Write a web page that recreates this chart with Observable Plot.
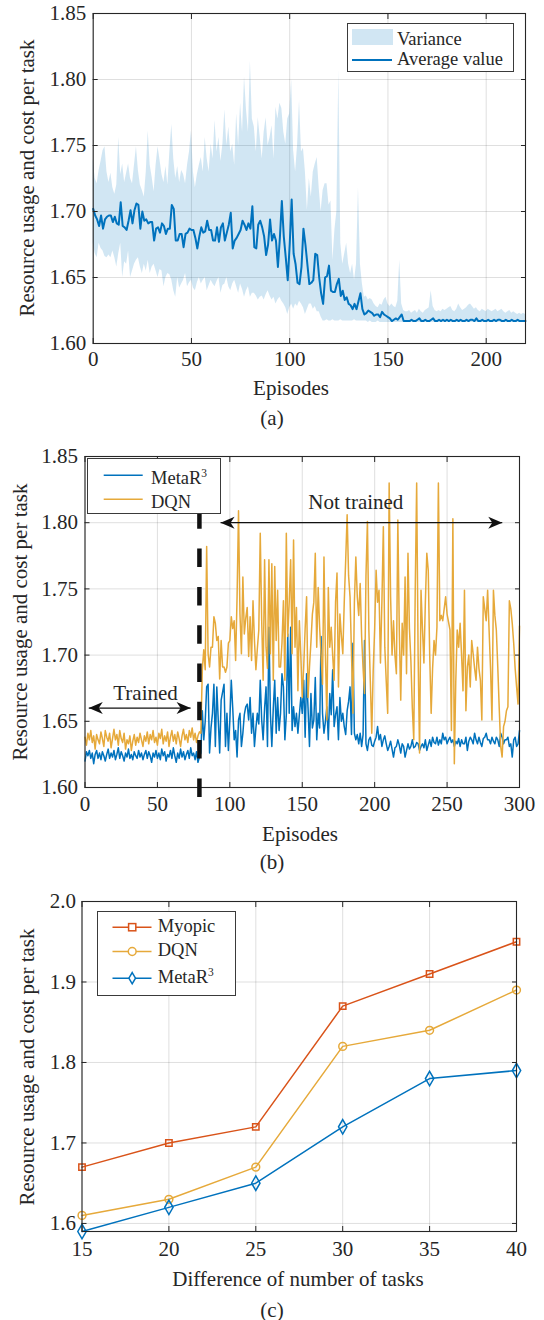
<!DOCTYPE html>
<html><head><meta charset="utf-8">
<script src="https://cdn.jsdelivr.net/npm/d3@7"></script>
<script src="https://cdn.jsdelivr.net/npm/@observablehq/plot@0.6"></script>
<style>
body{margin:0;background:#fff;}
#wrap{position:relative;width:544px;height:1320px;overflow:hidden;font-family:"Liberation Serif",Tinos,"Times New Roman",Times,"Nimbus Roman","DejaVu Serif","Noto Serif",serif;color:#262626;background:#fff;}
.t{position:absolute;white-space:nowrap;font-size:21px;line-height:1;transform:translate(-50%,-50%);}
.yl{transform:translate(-50%,-50%) rotate(-90deg);}
.legend{position:absolute;background:#fff;border:1px solid #3a3a3a;box-sizing:border-box;}
.legend span{position:absolute;white-space:nowrap;font-size:18.5px;line-height:1;}
.legend svg{position:absolute;left:0;top:0;overflow:visible;}
sup{font-size:0.62em;vertical-align:0.62em;line-height:0;}
</style></head>
<body><div id="wrap"></div>
<script>
// ---------------- Panel (a) data ----------------
const meanA = [
1.702,1.697,1.694,1.689,1.697,1.687,1.694,1.696,1.697,1.697,
1.692,1.696,1.691,1.690,1.707,1.689,1.688,1.686,1.693,1.701,
1.691,1.701,1.706,1.705,1.687,1.700,1.693,1.694,1.691,1.692,
1.692,1.678,1.687,1.688,1.684,1.691,1.689,1.683,1.687,1.687,
1.705,1.702,1.678,1.678,1.683,1.683,1.673,1.683,1.684,1.687,
1.686,1.686,1.680,1.672,1.681,1.688,1.684,1.685,1.693,1.686,
1.686,1.678,1.678,1.688,1.677,1.688,1.691,1.678,1.684,1.690,
1.699,1.672,1.678,1.680,1.683,1.686,1.693,1.690,1.686,1.691,
1.687,1.704,1.673,1.672,1.690,1.693,1.688,1.681,1.667,1.675,
1.694,1.678,1.683,1.678,1.658,1.680,1.708,1.681,1.665,1.648,
1.675,1.709,1.668,1.660,1.646,1.645,1.658,1.687,1.675,1.660,
1.645,1.646,1.648,1.668,1.667,1.650,1.638,1.630,1.650,1.651,
1.659,1.640,1.639,1.639,1.645,1.649,1.636,1.640,1.633,1.635,
1.630,1.629,1.626,1.630,1.626,1.632,1.638,1.626,1.622,1.623,
1.625,1.624,1.623,1.621,1.622,1.622,1.620,1.624,1.622,1.621,
1.620,1.619,1.617,1.618,1.619,1.618,1.620,1.622,1.617,1.617,
1.617,1.617,1.618,1.617,1.617,1.618,1.619,1.617,1.617,1.618,
1.617,1.617,1.618,1.619,1.617,1.617,1.618,1.617,1.618,1.617,
1.618,1.617,1.618,1.617,1.617,1.618,1.617,1.618,1.617,1.617,
1.618,1.617,1.618,1.618,1.617,1.619,1.617,1.617,1.618,1.617,
1.617,1.618,1.617,1.617,1.618,1.617,1.618,1.618,1.617,1.617,
1.618,1.617,1.617,1.618,1.617,1.617,1.618,1.617,1.617,1.617,1.617];
const upperA = [
1.740,1.725,1.721,1.731,1.738,1.746,1.749,1.730,1.722,1.729,
1.718,1.713,1.720,1.756,1.728,1.736,1.722,1.729,1.736,1.725,
1.721,1.735,1.749,1.731,1.720,1.716,1.711,1.730,1.761,1.735,
1.726,1.715,1.735,1.749,1.739,1.728,1.722,1.734,1.720,1.745,
1.766,1.740,1.725,1.734,1.722,1.731,1.728,1.721,1.735,1.745,
1.761,1.730,1.718,1.728,1.735,1.741,1.730,1.756,1.740,1.730,
1.751,1.740,1.769,1.745,1.756,1.738,1.751,1.777,1.750,1.764,
1.745,1.751,1.735,1.774,1.750,1.782,1.760,1.802,1.777,1.760,
1.814,1.770,1.764,1.745,1.771,1.756,1.740,1.760,1.771,1.750,
1.756,1.765,1.740,1.779,1.770,1.782,1.778,1.760,1.751,1.770,
1.774,1.800,1.746,1.730,1.750,1.784,1.745,1.748,1.730,1.701,
1.725,1.711,1.730,1.736,1.741,1.718,1.700,1.716,1.721,1.721,
1.705,1.708,1.663,1.686,1.700,1.807,1.676,1.660,1.668,1.676,
1.660,1.653,1.660,1.648,1.660,1.718,1.660,1.645,1.635,1.636,
1.633,1.634,1.633,1.630,1.628,1.627,1.630,1.629,1.633,1.635,
1.630,1.628,1.630,1.628,1.627,1.632,1.663,1.630,1.625,1.624,
1.624,1.625,1.623,1.624,1.625,1.623,1.626,1.624,1.623,1.625,
1.626,1.627,1.640,1.628,1.625,1.624,1.625,1.624,1.626,1.625,
1.626,1.627,1.628,1.625,1.624,1.626,1.630,1.627,1.625,1.626,
1.627,1.629,1.630,1.628,1.626,1.627,1.625,1.624,1.626,1.625,
1.624,1.626,1.625,1.624,1.625,1.626,1.624,1.625,1.626,1.624,
1.623,1.624,1.625,1.623,1.624,1.623,1.622,1.623,1.622,1.623,1.622];
const lowerA = [
1.676,1.668,1.665,1.676,1.672,1.670,1.666,1.665,1.667,1.665,
1.670,1.665,1.658,1.668,1.676,1.650,1.662,1.660,1.670,1.650,
1.655,1.660,1.663,1.665,1.658,1.653,1.660,1.655,1.663,1.653,
1.658,1.660,1.655,1.650,1.656,1.655,1.643,1.650,1.653,1.652,
1.648,1.640,1.635,1.650,1.642,1.645,1.648,1.653,1.643,1.646,
1.648,1.642,1.640,1.646,1.650,1.645,1.648,1.650,1.640,1.644,
1.648,1.645,1.643,1.647,1.650,1.638,1.644,1.645,1.650,1.643,
1.640,1.645,1.648,1.643,1.638,1.645,1.641,1.635,1.640,1.643,
1.635,1.638,1.638,1.636,1.633,1.635,1.636,1.633,1.637,1.640,
1.636,1.633,1.635,1.630,1.633,1.635,1.632,1.630,1.627,1.622,
1.627,1.630,1.626,1.630,1.628,1.632,1.630,1.627,1.622,1.626,
1.630,1.630,1.626,1.628,1.624,1.624,1.620,1.617,1.617,1.618,
1.617,1.617,1.618,1.617,1.617,1.617,1.618,1.617,1.617,1.617,
1.617,1.617,1.617,1.618,1.617,1.617,1.617,1.617,1.617,1.617,
1.616,1.617,1.616,1.616,1.616,1.617,1.616,1.616,1.616,1.616,
1.616,1.616,1.616,1.616,1.616,1.616,1.616,1.616,1.616,1.616,
1.616,1.616,1.616,1.616,1.616,1.616,1.616,1.616,1.616,1.616,
1.616,1.616,1.616,1.616,1.616,1.616,1.616,1.616,1.616,1.616,
1.616,1.616,1.616,1.616,1.616,1.616,1.616,1.616,1.616,1.616,
1.616,1.616,1.616,1.616,1.616,1.616,1.616,1.616,1.616,1.616,
1.616,1.616,1.616,1.616,1.616,1.616,1.616,1.616,1.616,1.616,
1.616,1.616,1.616,1.616,1.616,1.616,1.616,1.616,1.616,1.616,1.616];
const ticksAx = [0,50,100,150,200];
const ticksAy = [1.60,1.65,1.70,1.75,1.80,1.85];

// ---------------- Panel (b) data ----------------
const metaB = [
1.620,1.627,1.624,1.628,1.622,1.626,1.618,1.625,1.628,1.622,
1.626,1.621,1.627,1.624,1.620,1.625,1.629,1.622,1.626,1.623,
1.628,1.621,1.625,1.630,1.622,1.627,1.624,1.620,1.626,1.623,
1.629,1.622,1.625,1.621,1.627,1.624,1.622,1.628,1.623,1.626,
1.621,1.625,1.628,1.622,1.627,1.624,1.619,1.626,1.623,1.628,
1.622,1.626,1.621,1.629,1.624,1.627,1.620,1.625,1.623,1.628,
1.622,1.630,1.624,1.619,1.626,1.622,1.629,1.623,1.627,1.621,
1.625,1.628,1.622,1.630,1.624,1.626,1.621,1.627,1.619,1.623,
1.626,1.658,1.636,1.650,1.676,1.678,1.626,1.645,1.656,1.678,
1.631,1.676,1.651,1.626,1.666,1.672,1.678,1.631,1.656,1.628,
1.651,1.681,1.660,1.636,1.643,1.623,1.651,1.656,1.631,1.641,
1.655,1.661,1.663,1.651,1.668,1.641,1.656,1.631,1.645,1.656,
1.648,1.681,1.651,1.636,1.660,1.676,1.631,1.721,1.656,1.631,
1.660,1.681,1.641,1.668,1.643,1.656,1.686,1.676,1.636,1.655,
1.716,1.656,1.721,1.643,1.661,1.646,1.656,1.641,1.655,1.668,
1.656,1.681,1.638,1.686,1.660,1.631,1.671,1.645,1.651,1.683,
1.636,1.656,1.645,1.714,1.656,1.641,1.650,1.661,1.636,1.671,
1.655,1.689,1.646,1.655,1.661,1.636,1.668,1.650,1.656,1.646,
1.640,1.658,1.665,1.676,1.640,1.709,1.641,1.636,1.640,1.633,
1.641,1.631,1.640,1.711,1.633,1.628,1.636,1.638,1.632,1.631,
1.635,1.638,1.646,1.636,1.640,1.631,1.636,1.639,1.633,1.628,
1.631,1.635,1.629,1.623,1.630,1.631,1.636,1.632,1.626,1.633,
1.631,1.623,1.628,1.633,1.629,1.631,1.636,1.630,1.631,1.634,
1.633,1.628,1.631,1.633,1.630,1.636,1.628,1.632,1.636,1.631,
1.638,1.634,1.633,1.638,1.632,1.636,1.633,1.641,1.636,1.638,
1.633,1.636,1.638,1.634,1.636,1.631,1.635,1.633,1.637,1.631,
1.636,1.633,1.633,1.638,1.628,1.635,1.638,1.636,1.633,1.641,
1.636,1.633,1.638,1.634,1.631,1.637,1.638,1.641,1.636,1.636,
1.633,1.638,1.635,1.633,1.638,1.636,1.631,1.641,1.638,1.633,
1.636,1.636,1.638,1.631,1.633,1.623,1.636,1.638,1.631,1.633,
1.643];
const dqnB = [
1.638,1.632,1.641,1.636,1.643,1.634,1.639,1.629,1.640,1.636,
1.633,1.642,1.637,1.631,1.643,1.638,1.635,1.641,1.630,1.637,
1.644,1.636,1.640,1.632,1.643,1.637,1.634,1.641,1.629,1.636,
1.633,1.639,1.628,1.635,1.640,1.632,1.638,1.634,1.641,1.636,
1.631,1.639,1.635,1.642,1.633,1.640,1.636,1.643,1.634,1.638,
1.632,1.641,1.637,1.644,1.633,1.639,1.635,1.642,1.631,1.638,
1.643,1.635,1.640,1.633,1.642,1.637,1.631,1.639,1.644,1.636,
1.640,1.634,1.643,1.638,1.645,1.636,1.641,1.634,1.639,1.642,
1.641,1.689,1.704,1.689,1.782,1.701,1.691,1.706,1.706,1.729,
1.724,1.711,1.714,1.682,1.711,1.691,1.691,1.687,1.691,1.709,
1.711,1.729,1.720,1.726,1.696,1.744,1.809,1.731,1.701,1.759,
1.716,1.728,1.736,1.699,1.729,1.696,1.741,1.711,1.689,1.705,
1.719,1.792,1.726,1.681,1.772,1.706,1.690,1.772,1.701,1.769,
1.681,1.767,1.711,1.749,1.691,1.691,1.709,1.741,1.681,1.792,
1.714,1.740,1.772,1.701,1.787,1.706,1.736,1.673,1.726,1.700,
1.668,1.691,1.720,1.744,1.668,1.691,1.710,1.731,1.740,1.777,
1.706,1.751,1.721,1.700,1.678,1.774,1.700,1.651,1.751,1.706,
1.721,1.700,1.681,1.740,1.762,1.676,1.731,1.715,1.701,1.740,
1.772,1.806,1.760,1.744,1.701,1.656,1.740,1.774,1.744,1.730,
1.754,1.714,1.690,1.671,1.760,1.801,1.719,1.680,1.641,1.689,
1.720,1.764,1.740,1.749,1.694,1.740,1.797,1.706,1.680,1.656,
1.830,1.744,1.700,1.726,1.700,1.686,1.802,1.720,1.666,1.724,
1.700,1.759,1.686,1.777,1.720,1.696,1.660,1.636,1.749,1.830,
1.700,1.626,1.749,1.720,1.694,1.740,1.777,1.764,1.700,1.656,
1.690,1.711,1.700,1.721,1.830,1.726,1.730,1.726,1.735,1.744,
1.731,1.725,1.719,1.643,1.803,1.618,1.680,1.719,1.706,1.724,
1.700,1.673,1.749,1.658,1.691,1.700,1.676,1.711,1.701,1.690,
1.681,1.706,1.690,1.681,1.651,1.744,1.735,1.726,1.749,1.719,
1.690,1.651,1.749,1.730,1.719,1.691,1.660,1.631,1.623,1.646,
1.650,1.658,1.661,1.741,1.735,1.724,1.709,1.690,1.676,1.663,
1.722];
const ticksBx = [0,50,100,150,200,250,300];
const ticksBy = [1.60,1.65,1.70,1.75,1.80,1.85];
const trainSplit = [{x: 79, top: 1.809, bottom: 1.590}];
const arrowsB = [
  {label: "Trained", from: 2.6, to: 72.9, y: 1.66, tx: 41.8, ty: 1.671},
  {label: "Not trained", from: 93.6, to: 288.1, y: 1.80, tx: 187, ty: 1.8155}
];

// ---------------- Panel (c) data ----------------
const tasksC = [15,20,25,30,35,40];
const myopicC = [1.67,1.70,1.72,1.87,1.91,1.95];
const dqnC = [1.61,1.63,1.67,1.82,1.84,1.89];
const metaC = [1.59,1.62,1.65,1.72,1.78,1.79];
const ticksCy = [1.6,1.7,1.8,1.9,2.0];

// ---------------- helpers ----------------
const BLUE = "#0072bd", GOLD = "#e6a93a", RED = "#d95319", INK = "#262626";
const FONT = '"Liberation Serif",Tinos,"Times New Roman",Times,"Nimbus Roman","DejaVu Serif","Noto Serif",serif';
const FS = 21;
const wrap = document.getElementById("wrap");

function axes(xt, yt, yfmt, padX, padY) {
  const blank = () => "";
  return [
    Plot.axisX(xt, {anchor: "bottom", tickSize: 0, tickPadding: padX, fontSize: FS, label: null, tickFormat: d => String(d)}),
    Plot.axisY(yt, {anchor: "left", tickSize: 0, tickPadding: padY, fontSize: FS, label: null, tickFormat: yfmt}),
    Plot.axisX(xt, {anchor: "bottom", tickSize: 5, dy: -5, tickFormat: blank, label: null}),
    Plot.axisX(xt, {anchor: "top", tickSize: 5, dy: 5, tickFormat: blank, label: null}),
    Plot.axisY(yt, {anchor: "left", tickSize: 5, dx: 5, tickFormat: blank, label: null}),
    Plot.axisY(yt, {anchor: "right", tickSize: 5, dx: -5, tickFormat: blank, label: null})
  ];
}
function grids(xt, yt) {
  return [
    Plot.gridX(xt, {stroke: INK, strokeOpacity: 0.15}),
    Plot.gridY(yt, {stroke: INK, strokeOpacity: 0.15})
  ];
}
const style = {fontFamily: FONT, fontSize: FS + "px", color: INK, background: "transparent", overflow: "visible"};
function place(node, top) {
  node.style.position = "absolute"; node.style.left = "0px"; node.style.top = top + "px";
  wrap.appendChild(node);
}
function text(html, x, y, rot, size) {
  const d = document.createElement("div");
  d.className = "t" + (rot ? " yl" : "");
  d.style.left = x + "px"; d.style.top = y + "px";
  if (size) d.style.fontSize = size + "px";
  d.innerHTML = html;
  wrap.appendChild(d);
}
function legend(x, y, w, h, svgInner, items) {
  const d = document.createElement("div");
  d.className = "legend";
  Object.assign(d.style, {left: x + "px", top: y + "px", width: w + "px", height: h + "px"});
  d.innerHTML = `<svg width="${w}" height="${h}">${svgInner}</svg>` +
    items.map(([html, l, t]) => `<span style="left:${l}px;top:${t}px">${html}</span>`).join("");
  wrap.appendChild(d);
}

// ---------------- Panel (a) ----------------
const rowsA = meanA.map((v, i) => ({e: i, mean: v, lo: lowerA[i], hi: upperA[i]}));
place(Plot.plot({
  width: 544, height: 440, marginTop: 13, marginBottom: 97, marginLeft: 92.7, marginRight: 19,
  style,
  x: {domain: [0, 220], axis: null},
  y: {domain: [1.60, 1.85], axis: null},
  marks: [
    ...grids(ticksAx, ticksAy),
    Plot.area(rowsA, {x1: "e", y1: "lo", y2: "hi", fill: BLUE, fillOpacity: 0.18}),
    Plot.line(rowsA, {x: "e", y: "mean", stroke: BLUE, strokeWidth: 2}),
    ...axes(ticksAx, ticksAy, d3.format(".2f"), 8, 7),
    Plot.frame({stroke: INK, strokeWidth: 1.1})
  ]
}), 0);

// ---------------- Panel (b) ----------------
const rowsMeta = metaB.map((v, i) => ({e: i, v}));
const rowsDqn = dqnB.map((v, i) => ({e: i, v}));
const headR = {draw(c) { c.moveTo(0, 0); c.lineTo(-14, -6); c.lineTo(-10, 0); c.lineTo(-14, 6); c.closePath(); }};
const headL = {draw(c) { c.moveTo(0, 0); c.lineTo(14, -6); c.lineTo(10, 0); c.lineTo(14, 6); c.closePath(); }};
place(Plot.plot({
  width: 544, height: 440, marginTop: 16, marginBottom: 93, marginLeft: 84.5, marginRight: 25,
  style,
  x: {domain: [0, 300], axis: null},
  y: {domain: [1.60, 1.85], axis: null},
  marks: [
    ...grids(ticksBx, ticksBy),
    Plot.line(rowsMeta, {x: "e", y: "v", stroke: BLUE, strokeWidth: 1.5}),
    Plot.line(rowsDqn, {x: "e", y: "v", stroke: GOLD, strokeWidth: 1.5}),
    ...axes(ticksBx, ticksBy, d3.format(".2f"), 9, 7),
    Plot.frame({stroke: INK, strokeWidth: 1.1}),
    Plot.ruleX(trainSplit, {x: "x", y1: "top", y2: "bottom", stroke: "#111", strokeWidth: 4.5, strokeDasharray: "18.5,19.8"}),
    Plot.link(arrowsB, {x1: "from", x2: "to", y1: "y", y2: "y", stroke: "#111", strokeWidth: 1.3}),
    Plot.dot(arrowsB, {x: "from", y: "y", symbol: headL, fill: "#111", stroke: "none"}),
    Plot.dot(arrowsB, {x: "to", y: "y", symbol: headR, fill: "#111", stroke: "none"}),
    Plot.text(arrowsB, {x: "tx", y: "ty", text: "label", fontSize: 21, fill: INK, textAnchor: "middle", lineAnchor: "middle"})
  ]
}), 440);

// ---------------- Panel (c) ----------------
const rowsC = [
  ...tasksC.map((t, i) => ({t, v: myopicC[i], s: "Myopic"})),
  ...tasksC.map((t, i) => ({t, v: dqnC[i], s: "DQN"})),
  ...tasksC.map((t, i) => ({t, v: metaC[i], s: "MetaR3"}))
];
const colorC = {Myopic: RED, DQN: GOLD, MetaR3: BLUE};
const symC = {Myopic: "square", DQN: "circle", MetaR3: "diamond"};
const rC = {Myopic: 3.6, DQN: 3.9, MetaR3: 4.4};
place(Plot.plot({
  width: 544, height: 440, marginTop: 21, marginBottom: 89, marginLeft: 81.5, marginRight: 28,
  style,
  x: {domain: [15, 40], axis: null},
  y: {domain: [1.59, 2.0], axis: null},
  marks: [
    ...grids(tasksC, ticksCy),
    ...["Myopic", "DQN", "MetaR3"].map(s => Plot.line(rowsC.filter(d => d.s === s), {x: "t", y: "v", stroke: colorC[s], strokeWidth: 1.5})),
    ...["Myopic", "DQN", "MetaR3"].map(s => Plot.dot(rowsC.filter(d => d.s === s), {x: "t", y: "v", stroke: colorC[s], fill: "none", strokeWidth: 1.5, symbol: symC[s], r: rC[s]})),
    ...axes(tasksC, ticksCy, d3.format(".1f"), 10, 6),
    Plot.frame({stroke: INK, strokeWidth: 1.1})
  ]
}), 880);

// ---------------- text: axis titles and captions ----------------
const yTitle = "Resource usage and cost per task";
text(yTitle, 27, 178, true);
text("Episodes", 291, 388);
text("(a)", 272, 418);
text(yTitle, 20, 622, true);
text("Episodes", 300, 834);
text("(b)", 272, 862);
text(yTitle, 27, 1067, true);
text("Difference of number of tasks", 298, 1279);
text("(c)", 272, 1310);

// ---------------- legends ----------------
legend(347, 23, 167, 49,
  `<rect x="4" y="5" width="41" height="16" fill="${BLUE}" fill-opacity="0.18"/>
   <line x1="4" x2="44" y1="36" y2="36" stroke="${BLUE}" stroke-width="2"/>`,
  [["Variance", 49, 5.5], ["Average value", 49, 26]]);
legend(87, 458, 134, 56,
  `<line x1="15.7" x2="54.7" y1="16.3" y2="16.3" stroke="${BLUE}" stroke-width="1.5"/>
   <line x1="15.7" x2="54.7" y1="40.3" y2="40.3" stroke="${GOLD}" stroke-width="1.5"/>`,
  [["MetaR<sup>3</sup>", 63, 10], ["DQN", 63, 33.5]]);
const sq = (cx, cy) => `<rect x="${cx - 3.6}" y="${cy - 3.6}" width="7.2" height="7.2" fill="white" stroke="${RED}" stroke-width="1.5"/>`;
const ci = (cx, cy) => `<circle cx="${cx}" cy="${cy}" r="3.9" fill="white" stroke="${GOLD}" stroke-width="1.5"/>`;
const di = (cx, cy) => `<path d="M${cx},${cy - 5.6}L${cx + 3.3},${cy}L${cx},${cy + 5.6}L${cx - 3.3},${cy}Z" fill="white" stroke="${BLUE}" stroke-width="1.5"/>`;
legend(96.5, 910.5, 139.5, 85.5,
  `<line x1="14.5" x2="53.5" y1="15.2" y2="15.2" stroke="${RED}" stroke-width="1.5"/>${sq(34.2, 15.2)}
   <line x1="14.5" x2="53.5" y1="39.5" y2="39.5" stroke="${GOLD}" stroke-width="1.5"/>${ci(34.2, 39.5)}
   <line x1="14.5" x2="53.5" y1="66.2" y2="66.2" stroke="${BLUE}" stroke-width="1.5"/>${di(34.2, 66.2)}`,
  [["Myopic", 60.2, 5.7], ["DQN", 60.2, 29], ["MetaR<sup>3</sup>", 60.2, 56]]);
</script></body></html>
